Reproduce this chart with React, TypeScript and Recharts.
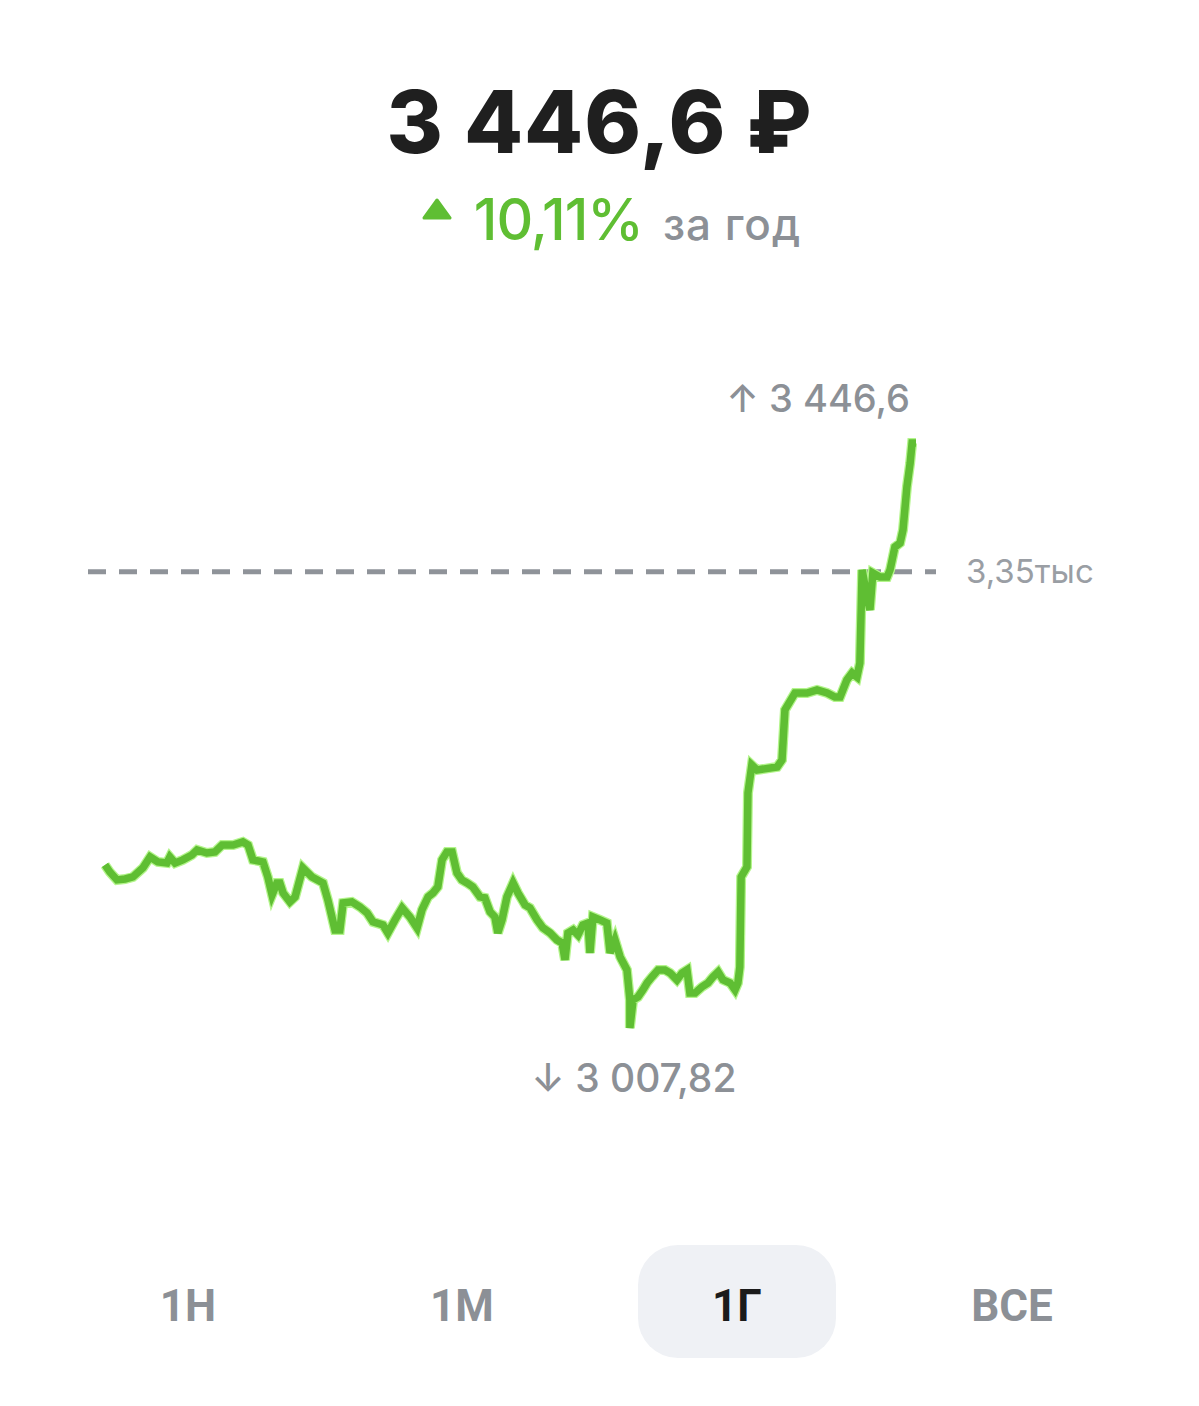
import React from "react";
import { LineChart, Line, XAxis, YAxis, ReferenceLine, ReferenceDot } from "recharts";

const days = [
  0, 1.5, 3.7, 6.2, 8.6, 11.7, 13.9, 16.3, 19.1, 20.0, 21.6, 24.0, 26.8, 28.4, 31.4, 33.9, 36.1, 39.5, 42.5, 44.1,
  45.6, 48.7, 50.2, 51.5, 53.0, 53.9, 54.9, 57.0, 58.6, 61.0, 63.8, 67.2, 68.7, 70.9, 72.4, 73.4, 76.1, 78.6, 80.8,
  82.6, 85.7, 87.2, 89.4, 91.6, 94.0, 96.2, 97.7, 99.6, 101.1, 102.6, 103.9, 105.4, 107.0, 108.5, 110.0, 111.6,
  113.4, 115.6, 117.1, 118.7, 120.2, 121.1, 122.4, 123.9, 125.8, 127.3, 129.5, 131.0, 133.2, 135.0, 137.2, 139.3,
  140.9, 141.8, 142.7, 144.3, 145.8, 147.3, 148.9, 149.5, 150.4, 152.6, 154.7, 155.7, 157.2, 158.8, 160.9, 161.8,
  161.8, 162.8, 164.3, 165.8, 167.1, 168.6, 170.5, 172.6, 174.2, 176.3, 177.9, 179.4, 180.3, 181.9, 184.0, 185.9,
  187.4, 189.0, 190.5, 192.7, 194.2, 195.1, 195.7, 196.1, 197.9, 198.2, 199.4, 201.0, 207.2, 208.7, 209.6, 212.7,
  216.4, 219.5, 222.6, 225.0, 226.6, 228.7, 230.3, 231.8, 232.7, 233.4, 234.9, 235.8, 236.7, 238.9, 241.1, 242.0,
  243.5, 245.1, 246.0, 247.2, 248.2, 248.8, 250.0,
];

const prices = [
  3130.1, 3124.8, 3118.9, 3119.6, 3121.1, 3127.9, 3136.1, 3132.4, 3131.6, 3136.1, 3131.6, 3133.9, 3137.6, 3141.4,
  3139.1, 3139.9, 3145.1, 3145.1, 3147.4, 3145.1, 3133.9, 3132.4, 3121.1, 3107.6, 3116.6, 3116.6, 3109.1, 3102.4,
  3106.1, 3127.9, 3121.1, 3116.6, 3103.9, 3081.4, 3081.4, 3101.6, 3102.4, 3098.6, 3094.1, 3087.4, 3085.1, 3079.1,
  3088.9, 3097.9, 3091.1, 3082.9, 3096.4, 3106.1, 3109.1, 3113.6, 3133.9, 3139.9, 3139.9, 3124.1, 3118.9, 3116.6,
  3113.6, 3106.1, 3105.4, 3094.9, 3091.1, 3079.1, 3088.9, 3106.1, 3116.6, 3109.1, 3100.1, 3097.9, 3088.9, 3082.9,
  3079.1, 3073.9, 3071.6, 3058.9, 3079.1, 3081.4, 3077.6, 3085.1, 3086.6, 3064.1, 3091.1, 3088.9, 3086.6, 3064.1,
  3073.9, 3061.1, 3051.4, 3028.9, 3007.82, 3028.9, 3031.1, 3036.4, 3041.6, 3046.1, 3051.4, 3051.4, 3049.1, 3043.9,
  3049.1, 3051.4, 3034.1, 3034.1, 3038.6, 3041.6, 3046.1, 3049.9, 3043.9, 3041.6, 3036.4, 3041.6, 3053.6, 3121.1,
  3128.6, 3184.1, 3205.1, 3201.4, 3203.6, 3208.9, 3246.4, 3259.1, 3259.1, 3261.4, 3259.1, 3256.1, 3256.1, 3268.9,
  3274.1, 3271.1, 3281.6, 3351.4, 3331.1, 3321.4, 3349.1, 3346.1, 3346.1, 3351.4, 3368.6, 3371.6, 3381.4, 3413.6,
  3431.6, 3446.6, 3446.6,
];

const currentPrice = "3 446,6 ₽";
const changeText = "10,11%";
const periodText = "за год";
const maxLabel = "3 446,6";
const minLabel = "3 007,82";
const refValue = 3350;
const refLabel = "3,35тыс";
const maxValue = 3446.6;
const minValue = 3007.82;
const maxDay = 250;
const minDay = 161.8;
const periods = ["1Н", "1М", "1Г", "ВСЕ"];
const activePeriod = "1Г";

const data = days.map((d, i) => ({ day: d, price: prices[i] }));

const FONT = "Inter, 'Open Sans', 'DejaVu Sans', sans-serif";
const GREEN = "#5fbe33";
const GREEN_LIGHT = "#b4f58c";
const GRAY = "#8c9096";

const MaxLabel = (props: any) => {
  const { viewBox } = props;
  const x = viewBox.x;
  const y = viewBox.y;
  return (
    <text x={x - 6} y={y - 31} textAnchor="end" fontFamily={FONT} fontSize={38} fill={GRAY} fontWeight={500}>
      {"↑ " + maxLabel}
    </text>
  );
};

const MinLabel = (props: any) => {
  const { viewBox } = props;
  const x = viewBox.x;
  const y = viewBox.y;
  return (
    <text x={x + 4} y={y + 64} textAnchor="middle" fontFamily={FONT} fontSize={39} fill={GRAY} fontWeight={500}>
      {"↓ " + minLabel}
    </text>
  );
};

const RefLabel = (props: any) => {
  const { viewBox } = props;
  return (
    <text x={viewBox.x + viewBox.width + 30} y={viewBox.y + 11} textAnchor="start" fontFamily={FONT} fontSize={33} fill="#9a9ea4" fontWeight={400}>
      {refLabel}
    </text>
  );
};

export default function App() {
  return (
    <div style={{ position: "absolute", left: 0, top: 0, width: 1199, height: 1406, background: "#fff", fontFamily: FONT }}>
      <div style={{ position: "absolute", left: 0, top: 72, width: 1199, textAlign: "center", fontSize: 86, fontWeight: 800, color: "#1f1f1f", lineHeight: "100px", letterSpacing: 1 }}>
        {currentPrice}
      </div>
      <div style={{ position: "absolute", left: 12, top: 185, width: 1199, display: "flex", justifyContent: "center", alignItems: "baseline", lineHeight: "70px" }}>
        <svg width={30} height={22} style={{ marginRight: 22, position: "relative", top: -20 }}>
          <path d="M15 2 L28 20 L2 20 Z" fill={GREEN} stroke={GREEN} strokeWidth={3} strokeLinejoin="round" />
        </svg>
        <span style={{ fontSize: 57, fontWeight: 500, color: GREEN, letterSpacing: -1 }}>{changeText}</span>
        <span style={{ fontSize: 44, fontWeight: 500, color: GRAY, marginLeft: 20, letterSpacing: 1 }}>{periodText}</span>
      </div>
      <div style={{ position: "absolute", left: 0, top: 0 }}>
        <LineChart width={1199} height={1406} data={data} margin={{ top: 443, bottom: 378, left: 88, right: 263 }}>
          <XAxis dataKey="day" type="number" domain={[-5.24, 256.17]} hide />
          <YAxis type="number" domain={[minValue, maxValue]} hide />
          <ReferenceLine y={refValue} stroke="#8f9399" strokeWidth={5} strokeDasharray="18 13" label={<RefLabel />} />
          <Line dataKey="price" type="linear" stroke={GREEN_LIGHT} strokeWidth={10} dot={false} isAnimationActive={false} />
          <Line dataKey="price" type="linear" stroke={GREEN} strokeWidth={7.5} dot={false} isAnimationActive={false} />
          <ReferenceDot x={maxDay} y={maxValue} r={0} label={<MaxLabel />} />
          <ReferenceDot x={minDay} y={minValue} r={0} label={<MinLabel />} />
        </LineChart>
      </div>
      <div style={{ position: "absolute", left: 638, top: 1245, width: 198, height: 113, borderRadius: 40, background: "#eff1f5" }} />
      {periods.map((p, i) => {
        const centers = [188, 462, 737, 1012];
        return (
          <div
            key={p}
            style={{
              position: "absolute",
              left: centers[i] - 100,
              width: 200,
              top: 1276,
              textAlign: "center",
              fontSize: 44,
              fontWeight: 700,
              lineHeight: "60px",
              color: p === activePeriod ? "#1b1b1b" : GRAY,
              fontFamily: "'Roboto', sans-serif",
            }}
          >
            {p}
          </div>
        );
      })}
    </div>
  );
}
